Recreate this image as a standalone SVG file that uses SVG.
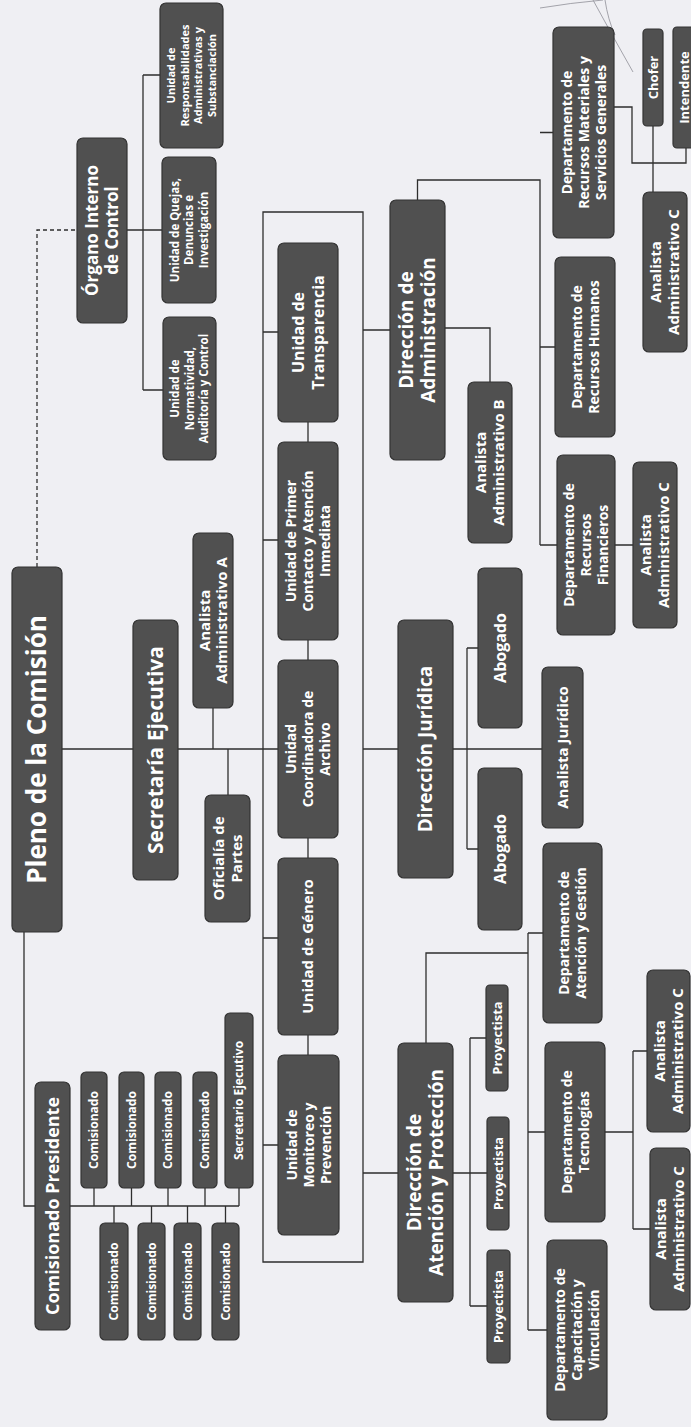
<svg xmlns="http://www.w3.org/2000/svg" width="691" height="1427" viewBox="0 0 691 1427">
<style>
.bg{fill:#efeff3}
.n rect{fill:#505050;stroke:#333;stroke-width:1.2}
.n text{fill:#fff;font-family:"Open Sans","Liberation Sans",sans-serif;font-weight:700;text-anchor:middle}
.c path{fill:none;stroke:#2e2e2e;stroke-width:1.3}
.c .d{stroke-dasharray:4 3}
.sc{fill:none;stroke:#9a9aa2;stroke-width:0.9}
.s26{font-size:26px}.s21{font-size:21px}.s19{font-size:19px}.s18{font-size:18px}.s17{font-size:17px}.s16{font-size:16px}.s15{font-size:15px}.s14{font-size:14px}.s13{font-size:13px}.s12{font-size:12px}.s11{font-size:11.5px}.s10{font-size:11px}
</style>
<rect class="bg" x="0" y="0" width="691" height="1427"/>
<g id="scribble">
<path class="sc" d="M540 8 Q570 3 603 0"/>
<path class="sc" d="M593 0 Q612 35 633 72"/>
<path class="sc" d="M605 0 Q608 20 615 35"/>
</g>
<g class="c" id="connectors">
<path class="d" d="M37 567 V230 H77"/>
<path d="M127 230 H162 M143 75 V390 M143 75 H160 M143 390 H163"/>
<path d="M263 212 H363 V1262 H263 Z"/>
<path d="M263 332 H278 M263 540 H278 M263 938 H278 M263 1145 H278"/>
<path d="M308 422 V442 M308 640 V660 M308 838 V858 M308 1035 V1055"/>
<path d="M62 749 H133 M178 749 H278 M213 708 V749 M228 749 V795"/>
<path d="M24 932 V1206 H35 M70 1206 H239"/>
<path d="M94 1206 V1188 M131.5 1206 V1188 M168 1206 V1188 M205 1206 V1188 M239 1206 V1188"/>
<path d="M114 1206 V1223 M151.5 1206 V1223 M187.5 1206 V1223 M225.5 1206 V1223"/>
<path d="M363 330 H390 M445 328 H490 V382"/>
<path d="M417.5 200 V180 H540 V545 M540 132.5 H553 M540 347 H555 M540 545 H557"/>
<path d="M614 107 H632 V163 H686 V148 M653 126 V192 M615 545 H633"/>
<path d="M363 749 H398 M453 749 H542 M467 648 V849 M467 648 H478 M467 849 H478"/>
<path d="M363 1173 H398 M453 1173 H487 M470 1038 V1306 M470 1038 H486 M470 1306 H487"/>
<path d="M426 1043 V953 H528 M528 933 V1330 M528 933 H543 M528 1132 H545 M528 1330 H547"/>
<path d="M605 1132 H633 M633 1051 V1229 M633 1051 H647 M633 1229 H650"/>
</g>
<g class="n" id="pleno"><rect x="12" y="567" width="50" height="365" rx="6"/><text class="s26" transform="translate(37 749.5) rotate(-90)"><tspan x="0" y="9.4">Pleno de la Comisión</tspan></text></g>
<g class="n" id="organo"><rect x="77" y="138" width="50" height="185" rx="6"/><text class="s17" transform="translate(102 230.5) rotate(-90)"><tspan x="0" y="-3.9">Órgano Interno</tspan><tspan x="0" y="16.1">de Control</tspan></text></g>
<g class="n" id="u_resp"><rect x="160" y="3" width="63" height="145" rx="6"/><text class="s10" transform="translate(191.5 75.5) rotate(-90)"><tspan x="0" y="-16.5">Unidad de</tspan><tspan x="0" y="-3">Responsabilidades</tspan><tspan x="0" y="10.5">Administrativas y</tspan><tspan x="0" y="24">Substanciación</tspan></text></g>
<g class="n" id="u_quejas"><rect x="162" y="157" width="54" height="146" rx="6"/><text class="s11" transform="translate(189 230) rotate(-90)"><tspan x="0" y="-10.5">Unidad de Quejas,</tspan><tspan x="0" y="4">Denuncias e</tspan><tspan x="0" y="18.5">Investigación</tspan></text></g>
<g class="n" id="u_norm"><rect x="163" y="317" width="53" height="143" rx="6"/><text class="s11" transform="translate(189.5 388.5) rotate(-90)"><tspan x="0" y="-10.5">Unidad de</tspan><tspan x="0" y="4">Normatividad,</tspan><tspan x="0" y="18.5">Auditoría y Control</tspan></text></g>
<g class="n" id="u_transp"><rect x="278" y="243" width="60" height="179" rx="6"/><text class="s16" transform="translate(308 332.5) rotate(-90)"><tspan x="0" y="-4.2">Unidad de</tspan><tspan x="0" y="15.8">Transparencia</tspan></text></g>
<g class="n" id="u_primer"><rect x="278" y="442" width="60" height="198" rx="6"/><text class="s14" transform="translate(308 541) rotate(-90)"><tspan x="0" y="-12">Unidad de Primer</tspan><tspan x="0" y="5">Contacto y Atención</tspan><tspan x="0" y="22">Inmediata</tspan></text></g>
<g class="n" id="u_coord"><rect x="278" y="660" width="60" height="178" rx="6"/><text class="s14" transform="translate(308 749) rotate(-90)"><tspan x="0" y="-12">Unidad</tspan><tspan x="0" y="5">Coordinadora de</tspan><tspan x="0" y="22">Archivo</tspan></text></g>
<g class="n" id="u_genero"><rect x="278" y="858" width="60" height="177" rx="6"/><text class="s15" transform="translate(308 946.5) rotate(-90)"><tspan x="0" y="5.4">Unidad de Género</tspan></text></g>
<g class="n" id="u_monit"><rect x="278" y="1055" width="61" height="180" rx="6"/><text class="s14" transform="translate(308.5 1145) rotate(-90)"><tspan x="0" y="-12">Unidad de</tspan><tspan x="0" y="5">Monitoreo y</tspan><tspan x="0" y="22">Prevención</tspan></text></g>
<g class="n" id="secretaria"><rect x="133" y="620" width="45" height="260" rx="6"/><text class="s21" transform="translate(155.5 750) rotate(-90)"><tspan x="0" y="7.6">Secretaría Ejecutiva</tspan></text></g>
<g class="n" id="analista_a"><rect x="193" y="533" width="40" height="175" rx="6"/><text class="s15" transform="translate(213 620.5) rotate(-90)"><tspan x="0" y="-3.1">Analista</tspan><tspan x="0" y="13.9">Administrativo A</tspan></text></g>
<g class="n" id="oficialia"><rect x="205" y="795" width="45" height="127" rx="6"/><text class="s15" transform="translate(227.5 858.5) rotate(-90)"><tspan x="0" y="-3.6">Oficialía de</tspan><tspan x="0" y="14.4">Partes</tspan></text></g>
<g class="n" id="com_pres"><rect x="35" y="1082" width="35" height="248" rx="6"/><text class="s18" transform="translate(52.5 1206) rotate(-90)"><tspan x="0" y="6.4">Comisionado Presidente</tspan></text></g>
<g class="n" id="com_1"><rect x="81" y="1072" width="26" height="116" rx="5"/><text class="s12" transform="translate(94 1130) rotate(-90)"><tspan x="0" y="4.4">Comisionado</tspan></text></g>
<g class="n" id="com_2"><rect x="119" y="1072" width="25" height="116" rx="5"/><text class="s12" transform="translate(131.5 1130) rotate(-90)"><tspan x="0" y="4.4">Comisionado</tspan></text></g>
<g class="n" id="com_3"><rect x="155" y="1072" width="26" height="116" rx="5"/><text class="s12" transform="translate(168 1130) rotate(-90)"><tspan x="0" y="4.4">Comisionado</tspan></text></g>
<g class="n" id="com_4"><rect x="193" y="1072" width="24" height="116" rx="5"/><text class="s12" transform="translate(205 1130) rotate(-90)"><tspan x="0" y="4.4">Comisionado</tspan></text></g>
<g class="n" id="sec_ej"><rect x="225" y="1013" width="28" height="175" rx="5"/><text class="s12" transform="translate(239 1100.5) rotate(-90)"><tspan x="0" y="4.4">Secretario Ejecutivo</tspan></text></g>
<g class="n" id="com_5"><rect x="100" y="1223" width="28" height="117" rx="5"/><text class="s12" transform="translate(114 1281.5) rotate(-90)"><tspan x="0" y="4.4">Comisionado</tspan></text></g>
<g class="n" id="com_6"><rect x="138" y="1223" width="27" height="117" rx="5"/><text class="s12" transform="translate(151.5 1281.5) rotate(-90)"><tspan x="0" y="4.4">Comisionado</tspan></text></g>
<g class="n" id="com_7"><rect x="174" y="1223" width="27" height="117" rx="5"/><text class="s12" transform="translate(187.5 1281.5) rotate(-90)"><tspan x="0" y="4.4">Comisionado</tspan></text></g>
<g class="n" id="com_8"><rect x="212" y="1223" width="27" height="117" rx="5"/><text class="s12" transform="translate(225.5 1281.5) rotate(-90)"><tspan x="0" y="4.4">Comisionado</tspan></text></g>
<g class="n" id="dir_admin"><rect x="390" y="200" width="55" height="260" rx="6"/><text class="s19" transform="translate(417.5 330) rotate(-90)"><tspan x="0" y="-4.2">Dirección de</tspan><tspan x="0" y="17.8">Administración</tspan></text></g>
<g class="n" id="analista_b"><rect x="468" y="382" width="44" height="161" rx="6"/><text class="s15" transform="translate(490 462.5) rotate(-90)"><tspan x="0" y="-3.6">Analista</tspan><tspan x="0" y="14.4">Administrativo B</tspan></text></g>
<g class="n" id="dept_mat"><rect x="553" y="27" width="61" height="211" rx="6"/><text class="s14" transform="translate(583.5 132.5) rotate(-90)"><tspan x="0" y="-12">Departamento de</tspan><tspan x="0" y="5">Recursos Materiales y</tspan><tspan x="0" y="22">Servicios Generales</tspan></text></g>
<g class="n" id="chofer"><rect x="643" y="29" width="20" height="97" rx="4"/><text class="s13" transform="translate(653 77.5) rotate(-90)"><tspan x="0" y="4.7">Chofer</tspan></text></g>
<g class="n" id="intendente"><rect x="673" y="27" width="24" height="121" rx="4"/><text class="s13" transform="translate(684.5 87.5) rotate(-90)"><tspan x="0" y="4.7">Intendente</tspan></text></g>
<g class="n" id="analista_c1"><rect x="643" y="192" width="44" height="160" rx="6"/><text class="s15" transform="translate(665 272) rotate(-90)"><tspan x="0" y="-3.6">Analista</tspan><tspan x="0" y="14.4">Administrativo C</tspan></text></g>
<g class="n" id="dept_rh"><rect x="555" y="257" width="60" height="180" rx="6"/><text class="s14" transform="translate(585 347) rotate(-90)"><tspan x="0" y="-3.5">Departamento de</tspan><tspan x="0" y="13.5">Recursos Humanos</tspan></text></g>
<g class="n" id="dept_fin"><rect x="557" y="455" width="58" height="180" rx="6"/><text class="s14" transform="translate(586 545) rotate(-90)"><tspan x="0" y="-12">Departamento de</tspan><tspan x="0" y="5">Recursos</tspan><tspan x="0" y="22">Financieros</tspan></text></g>
<g class="n" id="analista_c2"><rect x="633" y="462" width="44" height="166" rx="6"/><text class="s15" transform="translate(655 545) rotate(-90)"><tspan x="0" y="-3.6">Analista</tspan><tspan x="0" y="14.4">Administrativo C</tspan></text></g>
<g class="n" id="dir_jur"><rect x="398" y="620" width="55" height="258" rx="6"/><text class="s19" transform="translate(425.5 749) rotate(-90)"><tspan x="0" y="6.8">Dirección Jurídica</tspan></text></g>
<g class="n" id="abogado_1"><rect x="478" y="568" width="44" height="160" rx="6"/><text class="s16" transform="translate(500 648) rotate(-90)"><tspan x="0" y="5.8">Abogado</tspan></text></g>
<g class="n" id="abogado_2"><rect x="478" y="768" width="44" height="162" rx="6"/><text class="s16" transform="translate(500 849) rotate(-90)"><tspan x="0" y="5.8">Abogado</tspan></text></g>
<g class="n" id="analista_jur"><rect x="542" y="667" width="41" height="161" rx="6"/><text class="s15" transform="translate(562.5 747.5) rotate(-90)"><tspan x="0" y="5.4">Analista Jurídico</tspan></text></g>
<g class="n" id="dir_aten"><rect x="398" y="1043" width="55" height="259" rx="6"/><text class="s19" transform="translate(425.5 1172.5) rotate(-90)"><tspan x="0" y="-4.2">Dirección de</tspan><tspan x="0" y="17.8">Atención y Protección</tspan></text></g>
<g class="n" id="proy_1"><rect x="486" y="985" width="22" height="106" rx="4"/><text class="s13" transform="translate(497 1038) rotate(-90)"><tspan x="0" y="4.7">Proyectista</tspan></text></g>
<g class="n" id="proy_2"><rect x="487" y="1117" width="22" height="113" rx="4"/><text class="s13" transform="translate(498 1173.5) rotate(-90)"><tspan x="0" y="4.7">Proyectista</tspan></text></g>
<g class="n" id="proy_3"><rect x="487" y="1250" width="23" height="113" rx="4"/><text class="s13" transform="translate(498.5 1306.5) rotate(-90)"><tspan x="0" y="4.7">Proyectista</tspan></text></g>
<g class="n" id="dept_ag"><rect x="543" y="843" width="59" height="180" rx="6"/><text class="s14" transform="translate(572.5 933) rotate(-90)"><tspan x="0" y="-3.5">Departamento de</tspan><tspan x="0" y="13.5">Atención y Gestión</tspan></text></g>
<g class="n" id="dept_tec"><rect x="545" y="1042" width="60" height="180" rx="6"/><text class="s14" transform="translate(575 1132) rotate(-90)"><tspan x="0" y="-3.5">Departamento de</tspan><tspan x="0" y="13.5">Tecnologías</tspan></text></g>
<g class="n" id="dept_cap"><rect x="547" y="1240" width="60" height="180" rx="6"/><text class="s14" transform="translate(577 1330) rotate(-90)"><tspan x="0" y="-12">Departamento de</tspan><tspan x="0" y="5">Capacitación y</tspan><tspan x="0" y="22">Vinculación</tspan></text></g>
<g class="n" id="analista_c3"><rect x="647" y="970" width="43" height="162" rx="6"/><text class="s15" transform="translate(668.5 1051) rotate(-90)"><tspan x="0" y="-3.6">Analista</tspan><tspan x="0" y="14.4">Administrativo C</tspan></text></g>
<g class="n" id="analista_c4"><rect x="650" y="1148" width="40" height="162" rx="6"/><text class="s15" transform="translate(670 1229) rotate(-90)"><tspan x="0" y="-3.6">Analista</tspan><tspan x="0" y="14.4">Administrativo C</tspan></text></g>
</svg>
